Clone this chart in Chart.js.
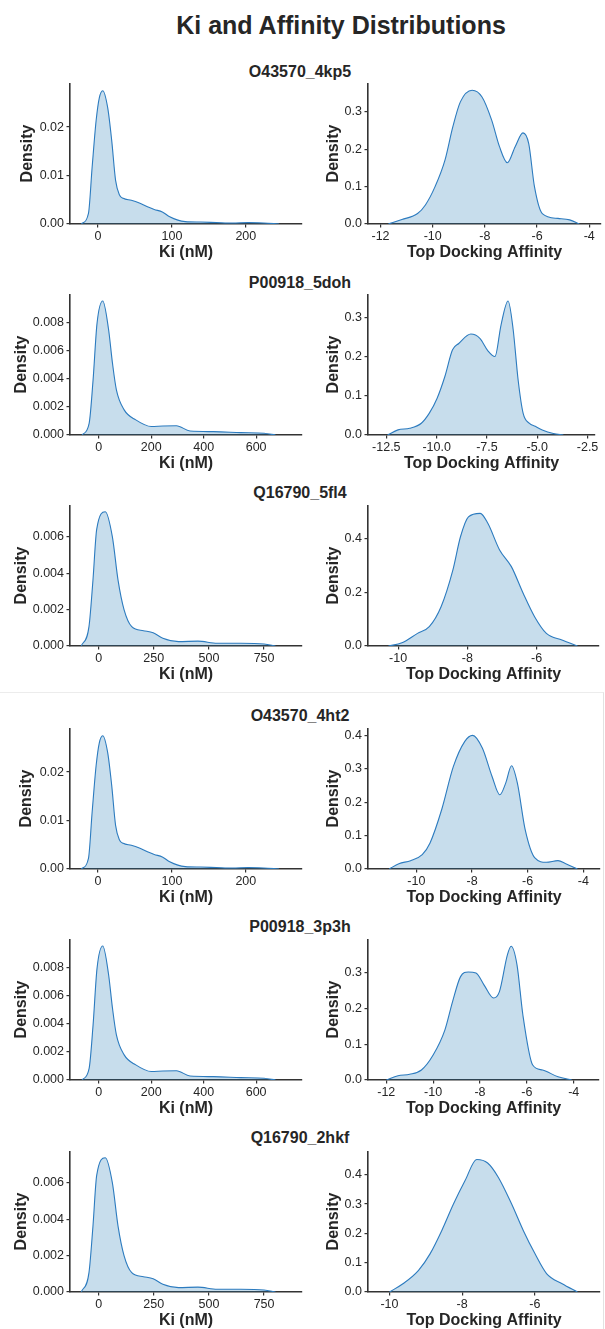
<!DOCTYPE html>
<html lang="en">

<head>
    <meta charset="UTF-8">
    <title>Ki and Affinity Distributions</title>
    <style>
        body {
            margin: 0;
            background: #fff;
            font-family: "Liberation Sans", Arial, sans-serif;
            color: #262626;
        }

        #fig {
            position: relative;
            width: 605px;
            height: 1329px;
            overflow: hidden;
        }

        .title {
            position: absolute;
            left: 0;
            width: 682px;
            top: 10px;
            line-height: 30px;
            text-align: center;
            font-size: 25px;
            font-weight: bold;
        }

        .sub {
            position: absolute;
            left: 0;
            width: 600px;
            line-height: 20px;
            text-align: center;
            font-size: 16px;
            font-weight: bold;
        }

        canvas {
            position: absolute;
        }

        #seam {
            position: absolute;
            left: 0;
            top: 692px;
            width: 603px;
            height: 640px;
            border-top: 1px solid #ececec;
            border-right: 1px solid #e2e2e2;
        }
    </style>
</head>

<body>
    <div id="fig">
        <div id="seam"></div>
        <div class="title">Ki and Affinity Distributions</div>
    </div>

    <script src="https://cdn.jsdelivr.net/npm/chart.js"></script>

    <script>
        // ---- Ki densities (same Ki set per protein) ----
        var kiX_O43570 = [-22.6, -13, -8, -2.6, 1.6, 6.3, 13, 18.4, 23.7, 29, 34, 45, 55, 66, 76, 87, 97, 108, 118, 139, 160, 182, 203, 224, 245];
        var kiY_O43570 = [0, 0.0022, 0.0118, 0.0214, 0.026, 0.0275, 0.024, 0.0173, 0.009, 0.006, 0.0053, 0.0049, 0.0044, 0.0036, 0.003, 0.0025, 0.0015, 0.0008, 0.0005, 0.0004, 0.0003, 0.0002, 0.0003, 0.0002, 0];

        var kiX_P00918 = [-64, -37, -22, -7, 15, 37, 52, 67, 96, 141, 200, 244, 296, 348, 437, 541, 630, 674];
        var kiY_P00918 = [0, 0.00083, 0.0039, 0.0079, 0.0095, 0.0075, 0.0051, 0.0032, 0.0018, 0.00107, 0.0006, 0.00064, 0.00066, 0.00028, 0.00024, 0.00017, 0.00012, 0];

        var kiX_Q16790 = [-79, -44, -26, -9, 30, 62, 88, 115, 150, 203, 247, 291, 362, 450, 538, 644, 750, 802];
        var kiY_Q16790 = [0, 0.00106, 0.0036, 0.0064, 0.00737, 0.006, 0.0036, 0.002, 0.00106, 0.00084, 0.00073, 0.00042, 0.00024, 0.00027, 0.00015, 0.00015, 0.00011, 0];

        // ---- Top docking affinity densities ----
        var affX_4kp5 = [-11.7, -11.18, -10.58, -10.28, -9.91, -9.53, -9.23, -8.94, -8.49, -8.11, -7.74, -7.44, -7.14, -6.84, -6.54, -6.32, -6.1, -5.8, -5.2, -4.75, -4.38];
        var affY_4kp5 = [0, 0.012, 0.028, 0.051, 0.1, 0.171, 0.26, 0.327, 0.358, 0.34, 0.278, 0.207, 0.164, 0.207, 0.244, 0.215, 0.1, 0.028, 0.015, 0.011, 0];

        var affX_5doh = [-12.44, -11.92, -11.34, -10.76, -10.37, -9.98, -9.59, -9.21, -8.9, -8.3, -7.85, -7.46, -7.1, -6.8, -6.45, -6.2, -5.95, -5.7, -5.4, -5.1, -4.75, -4.2, -3.7];
        var affY_5doh = [0, 0.013, 0.017, 0.03, 0.055, 0.093, 0.149, 0.217, 0.233, 0.257, 0.246, 0.215, 0.2, 0.28, 0.341, 0.27, 0.14, 0.055, 0.03, 0.022, 0.013, 0.004, 0];

        var affX_5fl4 = [-10.28, -9.89, -9.44, -9.1, -8.76, -8.42, -8.2, -7.97, -7.63, -7.41, -7.07, -6.73, -6.39, -6.06, -5.72, -5.27, -4.82];
        var affY_5fl4 = [0, 0.012, 0.047, 0.072, 0.146, 0.282, 0.406, 0.48, 0.493, 0.456, 0.357, 0.295, 0.196, 0.109, 0.047, 0.022, 0];

        var affX_4ht2 = [-10.98, -10.63, -10.21, -9.79, -9.51, -9.09, -8.67, -8.26, -7.98, -7.63, -7.28, -7.0, -6.79, -6.58, -6.37, -6.09, -5.74, -5.33, -4.91, -4.63, -4.21];
        var affY_4ht2 = [0, 0.016, 0.025, 0.043, 0.078, 0.178, 0.307, 0.382, 0.4, 0.362, 0.277, 0.222, 0.257, 0.309, 0.257, 0.118, 0.033, 0.02, 0.025, 0.016, 0];

        var affX_3p3h = [-12, -11.5, -11, -10.5, -10, -9.5, -9.17, -8.83, -8.5, -8.17, -7.83, -7.42, -7.17, -6.83, -6.67, -6.42, -6.17, -5.75, -5.33, -4.67, -4.08];
        var affY_3p3h = [0, 0.012, 0.016, 0.028, 0.07, 0.14, 0.22, 0.29, 0.303, 0.3, 0.267, 0.23, 0.248, 0.351, 0.375, 0.323, 0.183, 0.042, 0.028, 0.009, 0];

        var affX_2hkf = [-10, -9.63, -9.2, -8.88, -8.56, -8.24, -7.92, -7.6, -7.3, -7.0, -6.64, -6.32, -6.0, -5.68, -5.25, -4.83];
        var affY_2hkf = [0, 0.028, 0.074, 0.131, 0.21, 0.3, 0.38, 0.452, 0.44, 0.39, 0.3, 0.21, 0.131, 0.063, 0.028, 0];

        // ---- tick labels and axis limits ----
        var kiTicksX_O43570 = ['0', '100', '200'];
        var kiTicksY_O43570 = ['0.00', '0.01', '0.02'];
        var kiLimX_O43570 = [-38, 276];
        var kiLimY_O43570 = [0, 0.0291];

        var kiTicksX_P00918 = ['0', '200', '400', '600'];
        var kiTicksY_P00918 = ['0.000', '0.002', '0.004', '0.006', '0.008'];
        var kiLimX_P00918 = [-110, 775];
        var kiLimY_P00918 = [0, 0.0100];

        var kiTicksX_Q16790 = ['0', '250', '500', '750'];
        var kiTicksY_Q16790 = ['0.000', '0.002', '0.004', '0.006'];
        var kiLimX_Q16790 = [-130, 922];
        var kiLimY_Q16790 = [0, 0.00774];

        var affTicksX_4kp5 = ['-12', '-10', '-8', '-6', '-4'];
        var affTicksY_4kp5 = ['0.0', '0.1', '0.2', '0.3'];
        var affLimX_4kp5 = [-12.48, -3.55];
        var affLimY_4kp5 = [0, 0.3775];

        var affTicksX_5doh = ['-12.5', '-10.0', '-7.5', '-5.0', '-2.5'];
        var affTicksY_5doh = ['0.0', '0.1', '0.2', '0.3'];
        var affLimX_5doh = [-13.41, -2.13];
        var affLimY_5doh = [0, 0.359];

        var affTicksX_5fl4 = ['-10', '-8', '-6'];
        var affTicksY_5fl4 = ['0.0', '0.2', '0.4'];
        var affLimX_5fl4 = [-10.87, -4.2];
        var affLimY_5fl4 = [0, 0.524];

        var affTicksX_4ht2 = ['-10', '-8', '-6', '-4'];
        var affTicksY_4ht2 = ['0.0', '0.1', '0.2', '0.3', '0.4'];
        var affLimX_4ht2 = [-11.74, -3.4];
        var affLimY_4ht2 = [0, 0.422];

        var affTicksX_3p3h = ['-12', '-10', '-8', '-6', '-4'];
        var affTicksY_3p3h = ['0.0', '0.1', '0.2', '0.3'];
        var affLimX_3p3h = [-12.78, -2.92];
        var affLimY_3p3h = [0, 0.3955];

        var affTicksX_2hkf = ['-10', '-8', '-6'];
        var affTicksY_2hkf = ['0.0', '0.1', '0.2', '0.3', '0.4'];
        var affLimX_2hkf = [-10.59, -4.21];
        var affLimY_2hkf = [0, 0.481];

        var FONT = '"Liberation Sans", Arial, sans-serif';
        var TEXT = '#262626';
        var AXIS = '#333333';
        var LINE = '#2c7bbf';
        var FILL = 'rgba(31, 119, 180, 0.25)';

        // page layout (pixel positions of each row)
        var rows = [
            { name: 'O43570_4kp5', subY: 72, top: 83, zero: 224, dens: 18, affR: 601,
              ki: [kiX_O43570, kiY_O43570, kiTicksX_O43570, kiTicksY_O43570, kiLimX_O43570, kiLimY_O43570],
              aff: [affX_4kp5, affY_4kp5, affTicksX_4kp5, affTicksY_4kp5, affLimX_4kp5, affLimY_4kp5] },
            { name: 'P00918_5doh', subY: 283, top: 294, zero: 435, dens: 12, affR: 595,
              ki: [kiX_P00918, kiY_P00918, kiTicksX_P00918, kiTicksY_P00918, kiLimX_P00918, kiLimY_P00918],
              aff: [affX_5doh, affY_5doh, affTicksX_5doh, affTicksY_5doh, affLimX_5doh, affLimY_5doh] },
            { name: 'Q16790_5fl4', subY: 493, top: 505, zero: 646, dens: 12, affR: 599,
              ki: [kiX_Q16790, kiY_Q16790, kiTicksX_Q16790, kiTicksY_Q16790, kiLimX_Q16790, kiLimY_Q16790],
              aff: [affX_5fl4, affY_5fl4, affTicksX_5fl4, affTicksY_5fl4, affLimX_5fl4, affLimY_5fl4] },
            { name: 'O43570_4ht2', subY: 716, top: 728, zero: 869, dens: 17, affR: 600,
              ki: [kiX_O43570, kiY_O43570, kiTicksX_O43570, kiTicksY_O43570, kiLimX_O43570, kiLimY_O43570],
              aff: [affX_4ht2, affY_4ht2, affTicksX_4ht2, affTicksY_4ht2, affLimX_4ht2, affLimY_4ht2] },
            { name: 'P00918_3p3h', subY: 927, top: 939, zero: 1080, dens: 12, affR: 599,
              ki: [kiX_P00918, kiY_P00918, kiTicksX_P00918, kiTicksY_P00918, kiLimX_P00918, kiLimY_P00918],
              aff: [affX_3p3h, affY_3p3h, affTicksX_3p3h, affTicksY_3p3h, affLimX_3p3h, affLimY_3p3h] },
            { name: 'Q16790_2hkf', subY: 1138, top: 1151, zero: 1292, dens: 12, affR: 600,
              ki: [kiX_Q16790, kiY_Q16790, kiTicksX_Q16790, kiTicksY_Q16790, kiLimX_Q16790, kiLimY_Q16790],
              aff: [affX_2hkf, affY_2hkf, affTicksX_2hkf, affTicksY_2hkf, affLimX_2hkf, affLimY_2hkf] }
        ];

        var fig = document.getElementById('fig');
        var X_TITLE_H = 39; // height of x scale box (ticks + title)

        function kde(box, set, xTitle) {
            var xs = set[0], ys = set[1], tx = set[2], ty = set[3], limX = set[4], limY = set[5];
            var cv = document.createElement('canvas');
            cv.width = box.w;
            cv.height = box.h;
            cv.style.left = box.left + 'px';
            cv.style.top = box.top + 'px';
            fig.appendChild(cv);

            var pts = xs.map(function (x, i) { return { x: x, y: ys[i] }; });
            var tickFont = { family: FONT, size: 12.5 };
            var titleFont = { family: FONT, size: 16, weight: 'bold' };

            new Chart(cv, {
                type: 'line',
                data: {
                    datasets: [{
                        data: pts,
                        borderColor: LINE,
                        borderWidth: 1.1,
                        backgroundColor: FILL,
                        fill: 'origin',
                        pointRadius: 0,
                        cubicInterpolationMode: 'monotone'
                    }]
                },
                options: {
                    responsive: false,
                    animation: false,
                    events: [],
                    layout: { padding: { top: 0, left: 0, bottom: 0, right: box.padR } },
                    plugins: { legend: { display: false }, tooltip: { enabled: false } },
                    scales: {
                        x: {
                            type: 'linear',
                            bounds: 'data',
                            min: limX[0],
                            max: limX[1],
                            afterBuildTicks: function (s) {
                                s.ticks = tx.map(function (t) { return { value: parseFloat(t) }; });
                            },
                            afterFit: function (s) {
                                s.height = X_TITLE_H;
                                s.paddingLeft = 0;
                                s.paddingRight = 0;
                            },
                            ticks: {
                                autoSkip: false,
                                maxRotation: 0,
                                padding: 2,
                                color: TEXT,
                                font: tickFont,
                                callback: function (v, i) { return tx[i]; }
                            },
                            grid: { drawOnChartArea: false, drawTicks: true, tickLength: 3.5, color: AXIS, lineWidth: 1.2 },
                            border: { display: true, color: AXIS, width: 1.6 },
                            title: { display: true, text: xTitle, color: TEXT, font: titleFont, padding: { top: 0, bottom: 1 } }
                        },
                        y: {
                            type: 'linear',
                            bounds: 'data',
                            min: limY[0],
                            max: limY[1],
                            afterBuildTicks: function (s) {
                                s.ticks = ty.map(function (t) { return { value: parseFloat(t) }; });
                            },
                            afterFit: function (s) {
                                s.width = box.yW;
                                s.paddingTop = 0;
                                s.paddingBottom = 0;
                            },
                            ticks: {
                                autoSkip: false,
                                padding: 2.5,
                                color: TEXT,
                                font: tickFont,
                                callback: function (v, i) { return ty[i]; }
                            },
                            grid: { drawOnChartArea: false, drawTicks: true, tickLength: 3.5, color: AXIS, lineWidth: 1.2 },
                            border: { display: true, color: AXIS, width: 1.6 },
                            title: { display: true, text: 'Density', color: TEXT, font: titleFont, padding: { top: box.dens, bottom: 0 } }
                        }
                    }
                }
            });
        }

        rows.forEach(function (r) {
            var sub = document.createElement('div');
            sub.className = 'sub';
            sub.style.top = (r.subY - 10) + 'px';
            sub.textContent = r.name;
            fig.appendChild(sub);

            var h = (r.zero - r.top) + X_TITLE_H;

            // Ki panel: axis x 70 -> 302
            kde({ left: 0, top: r.top, w: 312, h: h, yW: 70, padR: 10, dens: r.dens }, r.ki, 'Ki (nM)');
            // affinity panel: axis x 368 -> affR
            kde({ left: 305, top: r.top, w: 300, h: h, yW: 63, padR: 605 - r.affR, dens: 19 }, r.aff, 'Top Docking Affinity');
        });
    </script>
</body>

</html>
